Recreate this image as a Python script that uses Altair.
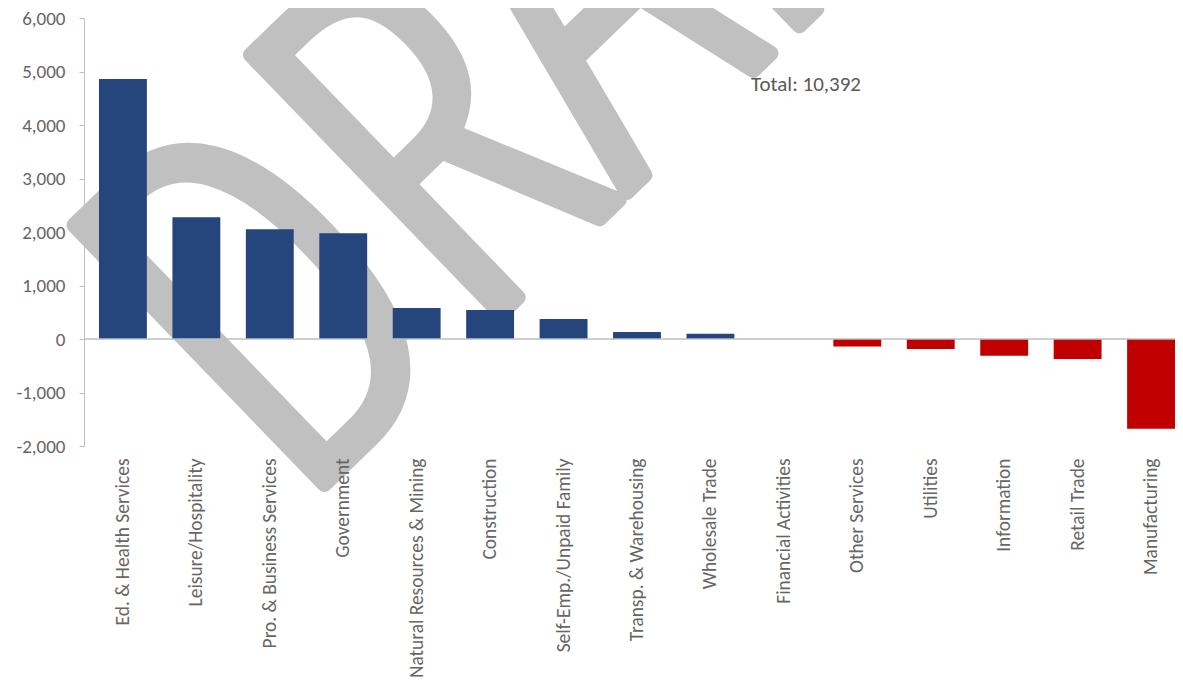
import altair as alt
import pandas as pd

categories = ["Ed. & Health Services", "Leisure/Hospitality", "Pro. & Business Services",
              "Government", "Natural Resources & Mining", "Construction",
              "Self-Emp./Unpaid Family", "Transp. & Warehousing", "Wholesale Trade",
              "Financial Activities", "Other Services", "Utilities", "Information",
              "Retail Trade", "Manufacturing"]
values = [4860, 2275, 2050, 1976, 579, 542, 374, 131, 99, 0, -140, -187, -312, -374, -1677]
y_ticks = [-2000, -1000, 0, 1000, 2000, 3000, 4000, 5000, 6000]
total_label = "Total: 10,392"
watermark = "DRAFT"

df = pd.DataFrame({"category": categories, "value": values})

W, H = 1091, 428
GRAY_TXT = "#666666"
LINE = "#BFBFBF"
FONT = "Carlito"
WM = "#C0C0C0"

xscale = alt.Scale(domain=categories, paddingInner=0.348, paddingOuter=0.102, align=1)
yscale = alt.Scale(domain=[-2000, 6000], nice=False, zero=False)

wm = alt.Chart(pd.DataFrame({"t": [watermark]})).mark_text(
    align="left", baseline="alphabetic", angle=316, fontSize=505,
    font="Open Sans Condensed Light, Roboto Condensed", color=WM,
    stroke=WM, strokeWidth=15, strokeJoin="round"
).encode(x=alt.value(212), y=alt.value(494), text="t:N")

bars = alt.Chart(df).mark_bar().encode(
    x=alt.X("category:N", sort=categories, scale=xscale,
            axis=alt.Axis(title=None, labelAngle=270, ticks=False, domain=False,
                          labelPadding=12, labelFont=FONT, labelFontSize=19.4,
                          labelColor=GRAY_TXT, labelLimit=400, zindex=1)),
    y=alt.Y("value:Q", scale=yscale,
            axis=alt.Axis(title=None, values=y_ticks, grid=False,
                          labelExpr="(datum.value < 0 ? '-' : '') + format(abs(datum.value), ',')",
                          domainColor=LINE, tickColor=LINE, tickSize=5, labelPadding=14,
                          labelFont=FONT, labelFontSize=19, labelColor=GRAY_TXT, zindex=1)),
    color=alt.condition(alt.datum.value < 0, alt.value("#C00000"), alt.value("#24467D")),
)

zero = alt.Chart(pd.DataFrame({"z": [0]})).mark_rule(color=LINE, strokeWidth=1.5).encode(
    y=alt.Y("z:Q", scale=yscale))

total = alt.Chart(pd.DataFrame({"t": [total_label]})).mark_text(
    align="center", baseline="middle", font=FONT, fontSize=21, color="#595959"
).encode(x=alt.value(722), y=alt.value(67), text="t:N")

chart = alt.layer(wm, bars, zero, total).properties(
    width=W, height=H,
    autosize=alt.AutoSizeParams(type="none"),
    padding={"left": 76, "top": 10, "right": 0, "bottom": 239},
).configure_view(stroke=None)

chart.save("out.html", embed_options={"renderer": "svg", "actions": False})
